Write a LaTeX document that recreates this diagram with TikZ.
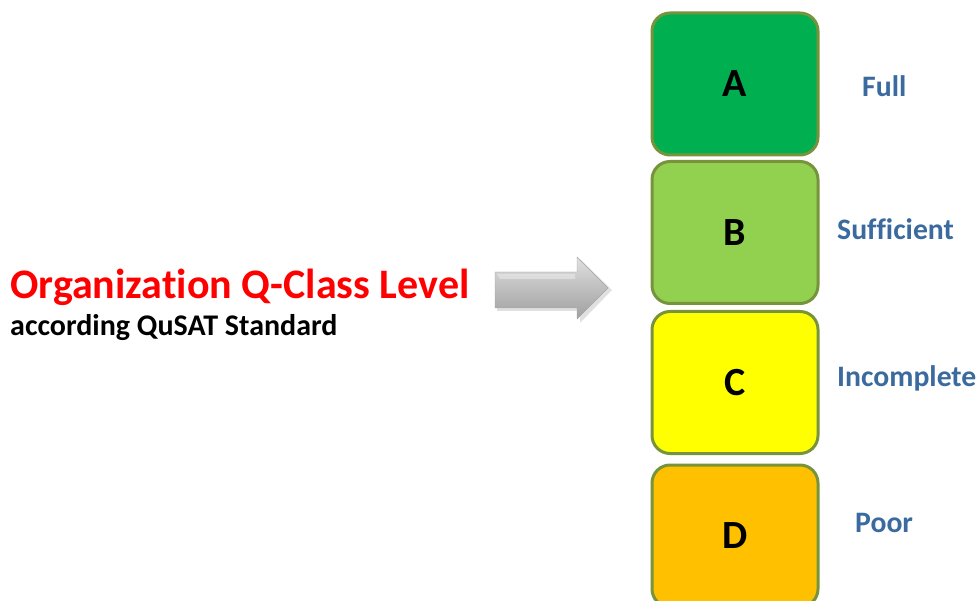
\documentclass[tikz,border=0pt]{standalone}
\usepackage{fontspec}
\setmainfont{Carlito}[Ligatures=NoCommon]
\usetikzlibrary{shadows}
\definecolor{gA}{HTML}{00B050}
\definecolor{gB}{HTML}{92D050}
\definecolor{gC}{HTML}{FFFF00}
\definecolor{gD}{HTML}{FFC000}
\definecolor{olive}{HTML}{77933C}
\definecolor{lbl}{HTML}{3A6A9E}
\definecolor{ttl}{HTML}{FF0000}
\begin{document}
\begin{tikzpicture}[x=1pt,y=-1pt,
  levelbox/.style={draw=olive,line width=3pt,rounded corners=18pt,minimum width=166pt,minimum height=142pt,inner sep=0pt,font=\bfseries\fontsize{40}{42}\selectfont},
  lvllabel/.style={anchor=base west,inner sep=0pt,text=lbl,font=\bfseries\fontsize{29.7}{31}\selectfont}]
\useasboundingbox (0,0) rectangle (979,601);
\begin{scope}
\clip (0,0) rectangle (979,601);
\node[levelbox,fill=gA] (A) at (735,84) {A};
\node[levelbox,fill=gB] (B) at (735,232.5) {B};
\node[levelbox,fill=gC] (C) at (735,382.5) {C};
\node[levelbox,fill=gD] (D) at (735,536) {D};
\end{scope}
\node[lvllabel] (lA) at (862,97) {Full};
\node[lvllabel] (lB) at (837,240) {Sufficient};
\node[lvllabel] (lC) at (837,386) {Incomplete};
\node[lvllabel] (lD) at (855,532) {Poor};
\node[anchor=base west,inner sep=0pt,text=ttl,font=\bfseries\fontsize{42}{44}\selectfont] (title) at (10,299) {Organization Q-Class Level};
\node[anchor=base west,inner sep=0pt,font=\bfseries\fontsize{30}{32}\selectfont] (sub) at (10,335) {according QuSAT Standard};
\fill[gray!40,opacity=0.6] (497,274) -- (580,274) -- (580,259) -- (612,290) -- (580,323) -- (580,311) -- (497,311) -- cycle;
\shade[top color=gray!25,bottom color=gray!75,draw=gray!70,line width=0.4pt] (495,272) -- (577,272) -- (577,257) -- (608,288) -- (577,319) -- (577,308) -- (495,308) -- cycle;
\fill[white,opacity=0.35] (497,274) -- (575,274) -- (575,279) -- (500,279) -- cycle;
\end{tikzpicture}
\end{document}
